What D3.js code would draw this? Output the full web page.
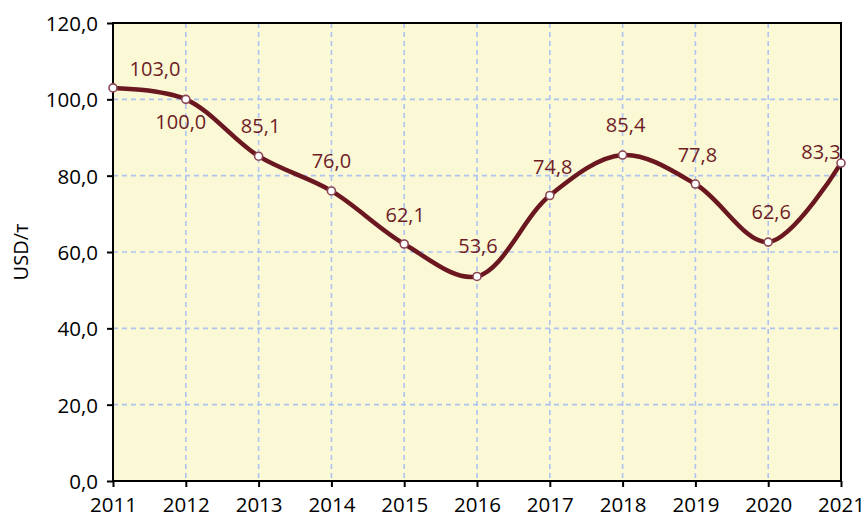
<!DOCTYPE html>
<html><head><meta charset="utf-8">
<script src="https://cdn.jsdelivr.net/npm/d3@7"></script>
<style>
html,body{margin:0;padding:0;background:#fff;}
text{font-family:"Open Sans",sans-serif;}
</style></head>
<body>
<svg id="chart" width="864" height="521"></svg>
<script>
const years = [2011,2012,2013,2014,2015,2016,2017,2018,2019,2020,2021];
const prices = [103.0,100.0,85.1,76.0,62.1,53.6,74.8,85.4,77.8,62.6,83.3];
const labels = ["103,0","100,0","85,1","76,0","62,1","53,6","74,8","85,4","77,8","62,6","83,3"];
const yTicks = [0,20,40,60,80,100,120];
const yTickLabels = ["0,0","20,0","40,0","60,0","80,0","100,0","120,0"];
const yTitle = "USD/т";
// label layout offsets (dx, dy) relative to points
const labelOffsets = [[42,-12],[-5,30],[2,-23],[0,-23],[1,-22],[1,-23],[3,-22],[3,-23],[2,-22],[3,-23],[-20,-4]];

const svg = d3.select("#chart");
const L=113, R=841, T=23, B=481;
const x = d3.scaleLinear().domain([2011,2021]).range([L,R]);
const y = d3.scaleLinear().domain([0,120]).range([B,T]);

svg.append("rect").attr("x",L).attr("y",T).attr("width",R-L).attr("height",B-T).attr("fill","#fbf8d5");

// grid
const g = svg.append("g");
g.selectAll("line.h").data(yTicks.slice(1,-1)).enter().append("line")
  .attr("x1",L).attr("x2",R).attr("y1",d=>y(d)).attr("y2",d=>y(d))
  .attr("stroke","#aec3ef").attr("stroke-width",1.6).attr("stroke-dasharray","5,4");
g.selectAll("line.v").data(years.slice(1,-1)).enter().append("line")
  .attr("y1",T).attr("y2",B).attr("x1",d=>x(d)).attr("x2",d=>x(d))
  .attr("stroke","#aec3ef").attr("stroke-width",1.6).attr("stroke-dasharray","5,4");

// frame
svg.append("rect").attr("x",L).attr("y",T).attr("width",R-L).attr("height",B-T)
  .attr("fill","none").attr("stroke","#000").attr("stroke-width",2);

// axes
const yAxis = d3.axisLeft(y).tickValues(yTicks).tickSize(6).tickFormat((d,i)=>yTickLabels[i]);
const ya = svg.append("g").attr("transform",`translate(${L},0)`).call(yAxis);
ya.select(".domain").remove();
ya.selectAll("line").attr("stroke","#000").attr("stroke-width",2);
ya.selectAll("text").attr("font-size",20.5).attr("fill","#000").attr("x",-15).attr("dy","0.36em");

const xAxis = d3.axisBottom(x).tickValues(years).tickSize(6).tickFormat(d3.format("d"));
const xa = svg.append("g").attr("transform",`translate(0,${B})`).call(xAxis);
xa.select(".domain").remove();
xa.selectAll("line").attr("stroke","#000").attr("stroke-width",2);
xa.selectAll("text").attr("font-size",20.5).attr("fill","#000").attr("y",16).attr("dy","0.71em");

svg.append("text").attr("transform","translate(28,252) rotate(-90)")
  .attr("text-anchor","middle").attr("font-size",20).attr("fill","#000").text(yTitle);

const data = years.map((yr,i)=>({yr,v:prices[i],lab:labels[i],off:labelOffsets[i]}));

const line = d3.line().x(d=>x(d.yr)).y(d=>y(d.v)).curve(d3.curveCatmullRom.alpha(0.5));
svg.append("path").datum(data).attr("d",line).attr("fill","none")
  .attr("stroke","#6b1720").attr("stroke-width",4.5).attr("stroke-linejoin","round");

svg.selectAll("circle.pt").data(data).enter().append("circle")
  .attr("cx",d=>x(d.yr)).attr("cy",d=>y(d.v)).attr("r",4)
  .attr("fill","#fff").attr("stroke","#8a4654").attr("stroke-width",1.6);

svg.selectAll("text.lab").data(data).enter().append("text")
  .attr("x",d=>x(d.yr)+d.off[0]).attr("y",d=>y(d.v)+d.off[1])
  .attr("text-anchor","middle").attr("font-size",20).attr("fill","#6e1c26")
  .text(d=>d.lab);
</script>
</body></html>
